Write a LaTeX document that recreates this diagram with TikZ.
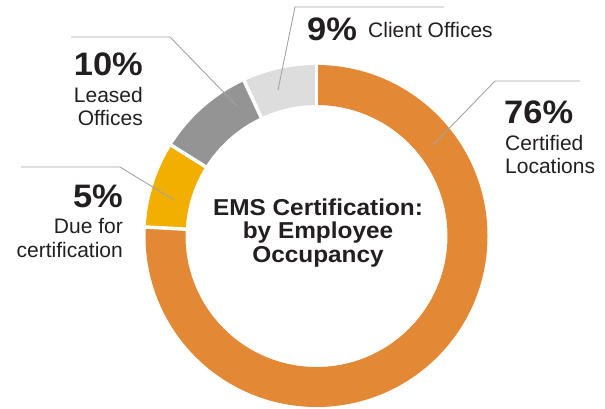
\documentclass[tikz,border=0pt]{standalone}
\usepackage{fontspec}
\setmainfont{Liberation Sans}
\newfontfamily\widefont[FakeStretch=1.06]{Liberation Sans}
\usepackage{tikz}
\usetikzlibrary{calc}

\definecolor{emsorange}{HTML}{E38835}
\definecolor{emsyellow}{HTML}{F3AF00}
\definecolor{emsgray}{HTML}{959494}
\definecolor{emslight}{HTML}{DDDDDD}
\definecolor{emstext}{HTML}{231F20}
\definecolor{emsleader}{HTML}{A3A3A3}

\tikzset{
    pct/.style={font=\widefont\fontsize{32.5}{34}\selectfont\bfseries, text=emstext, inner sep=0pt},
    lbl/.style={font=\fontsize{21}{23}\selectfont, text=emstext, inner sep=0pt},
    leader/.style={draw=emsleader, line width=0.9pt},
}

\begin{document}
\begin{tikzpicture}[x=1pt,y=1pt]
        \useasboundingbox (0,0) rectangle (605,408);
        \coordinate (O) at (316.5,172);
        % ring slices
        \foreach \a/\b/\c in {90/-183/emsorange, 177/148/emsyellow, 148/115/emsgray, 115/90/emslight}{
            \fill[\c] ($(O)+(\a:171)$) arc[start angle=\a, end angle=\b, radius=171pt]
                -- ($(O)+(\b:131)$) arc[start angle=\b, end angle=\a, radius=131pt] -- cycle;
        }
        \foreach \a in {90,177,148,115}{
            \draw[white, line width=3.5pt] ($(O)+(\a:128)$) -- ($(O)+(\a:174)$);
        }
        %
        \coordinate (CO) at (278,318);
        \coordinate (CE) at (295,401);
        \coordinate (CF) at (444,401);
        \coordinate (LO) at (236,303);
        \coordinate (LE) at (170,371);
        \coordinate (LF) at (71,371);
        \coordinate (DO) at (174,208);
        \coordinate (DE) at (120,241);
        \coordinate (DF) at (21,241);
        \coordinate (XO) at (433,263);
        \coordinate (XE) at (495,327);
        \coordinate (XF) at (580,327);
        \draw[leader] (CO) -- (CE) -- (CF);
        \draw[leader] (LO) -- (LE) -- (LF);
        \draw[leader] (DO) -- (DE) -- (DF);
        \draw[leader] (XO) -- (XE) -- (XF);
        %
        \node[pct, anchor=base west] (cpct) at (307,367) {9\%};
        \node[lbl, anchor=base west] (clbl) at (368,370) {Client Offices};
        \node[pct, anchor=base west] (xpct) at (504,285) {76\%};
        \node[lbl, anchor=base west] (xlbl1) at (505,258) {Certified};
        \node[lbl, anchor=base west] (xlbl2) at (505,235) {Locations};
        \node[pct, anchor=base east] (lpct) at (143,333) {10\%};
        \node[lbl, anchor=base east] (llbl1) at (143,306) {Leased};
        \node[lbl, anchor=base east] (llbl2) at (143,283) {Offices};
        \node[pct, anchor=base east] (dpct) at (123,201) {5\%};
        \node[lbl, anchor=base east] (dlbl1) at (123,175) {Due for};
        \node[lbl, anchor=base east] (dlbl2) at (123,151) {certification};
        %
        \node[align=center, text=emstext, inner sep=0pt,
              font=\widefont\fontsize{23}{23.5}\selectfont\bfseries] (title) at (318,175)
              {EMS Certification:\\by Employee\\Occupancy};
    \end{tikzpicture}
\end{document}
